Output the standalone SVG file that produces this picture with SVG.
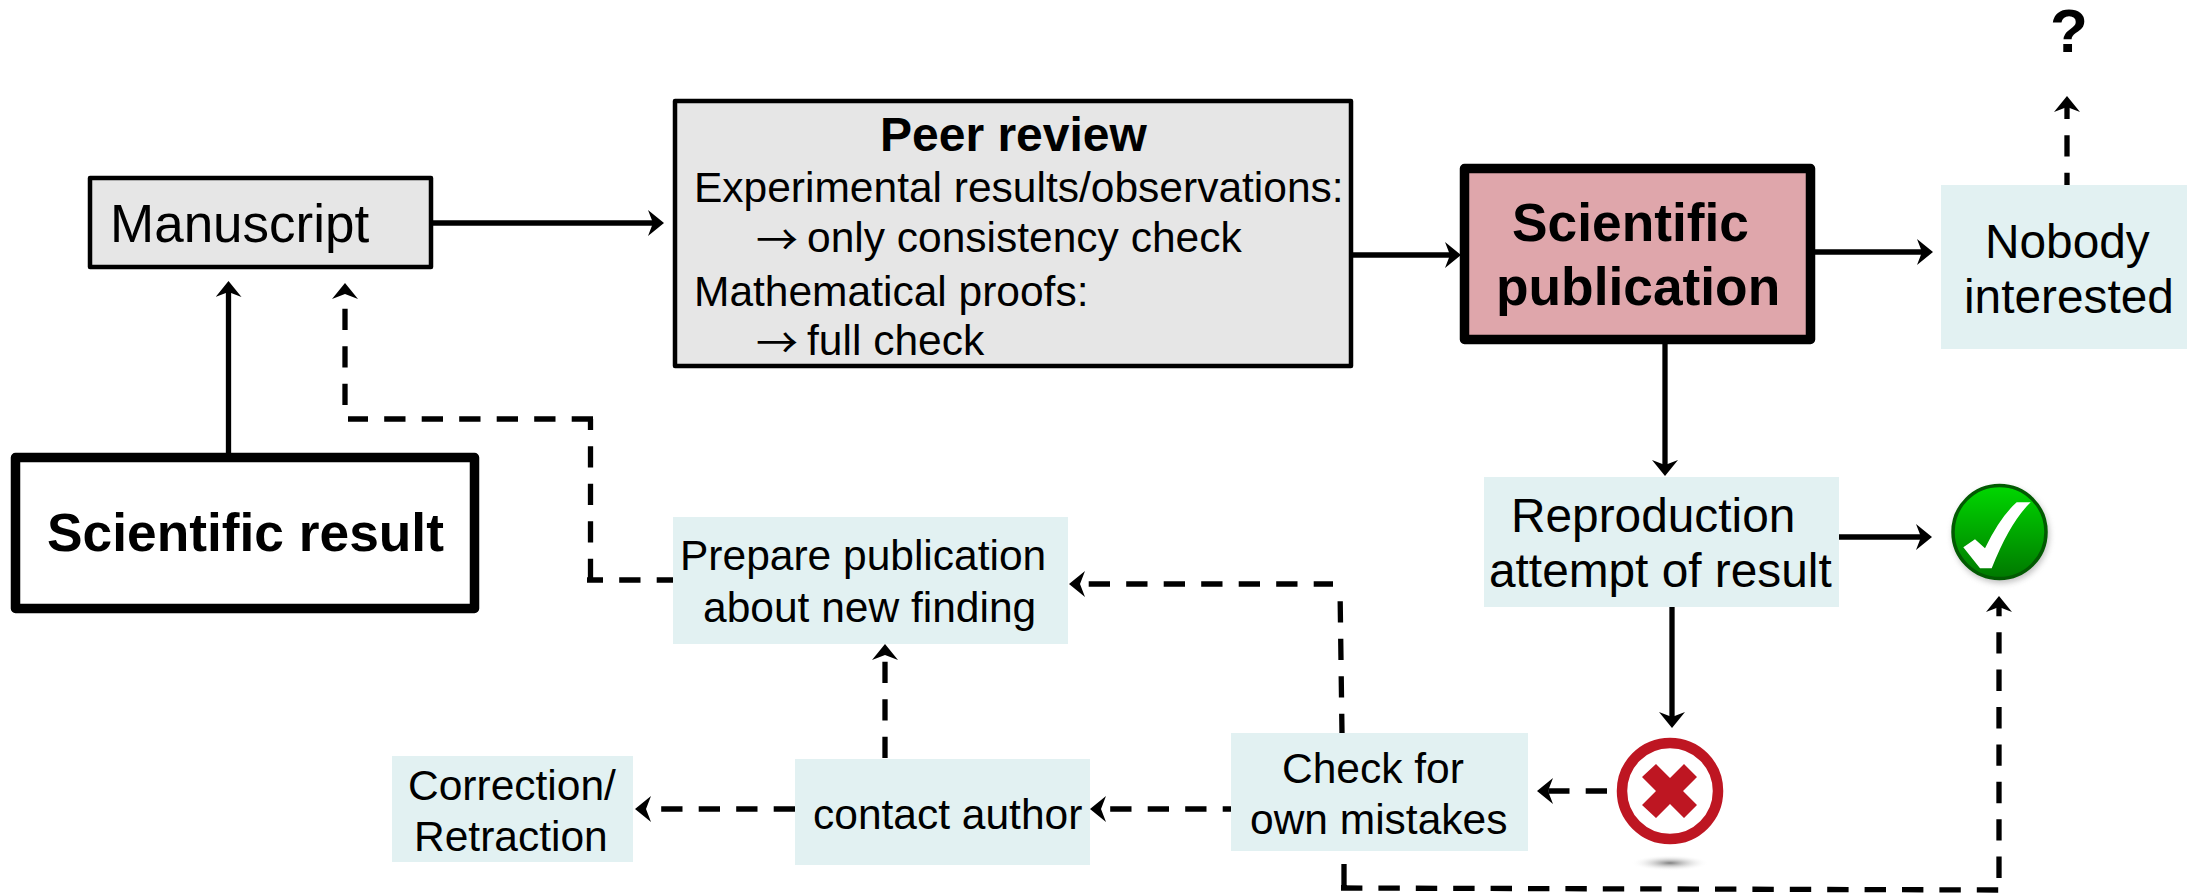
<svg xmlns="http://www.w3.org/2000/svg" width="2187" height="893" viewBox="0 0 2187 893">
<style>
text{font-family:"Liberation Sans",Arial,sans-serif;fill:#000}
.b{font-weight:700}
.grey{fill:#e6e6e6;stroke:#000;stroke-width:4.5;stroke-linejoin:round}
.thick{stroke:#000;stroke-width:9.5;stroke-linejoin:round}
.teal{fill:#e2f1f2}
.s42{font-size:42.500px}.s47{font-size:47.800px}.s52{font-size:53.300px}
.arr{font-family:"Noto Sans CJK SC","Noto Sans",sans-serif;font-size:42px}
.c{fill:none;stroke:#000;stroke-width:5.300;marker-end:url(#head)}
.d{stroke-dasharray:21.300 16.200}
</style>
<defs>
<marker id="head" markerUnits="userSpaceOnUse" markerWidth="18" markerHeight="28" refX="6" refY="13" orient="auto">
<path d="M16,13 L0,0 L5,13 L0,26Z" fill="#000"/>
</marker>
<linearGradient id="green" x1="0" y1="0" x2="0" y2="1"><stop offset="0" stop-color="#00d800"/><stop offset="1" stop-color="#007800"/></linearGradient>
<radialGradient id="floor"><stop offset="0" stop-color="#808080"/><stop offset="1" stop-color="#fff" stop-opacity="0"/></radialGradient>
<filter id="blur" x="-20%" y="-20%" width="140%" height="140%"><feGaussianBlur stdDeviation="3"/></filter>
</defs>

<g id="connectors">
<path class="c" d="M433,223 H654"/>
<path class="c" d="M228.500,453 V291"/>
<path class="c" d="M1353,255 H1451"/>
<path class="c" d="M1815,252 H1923"/>
<path class="c" d="M1665,344 V466"/>
<path class="c" d="M1672,607 V718"/>
<path class="c" d="M1839,537 H1922"/>
<path class="c d" d="M2067,185 V106" stroke-dashoffset="9"/>
<path class="c d" d="M1607,791 H1547"/>
<path class="c d" d="M1231,809 H1100" stroke-dashoffset="13"/>
<path class="c d" d="M795,809 H645"/>
<path class="c d" d="M885,758 V654"/>
<path class="c d" d="M678,580 H587 M590.500,580 V419 M593,419 H348 M345,405 V293"/>
<path class="c d" d="M1342,733 L1340,587 M1333,584 H1079" stroke-dashoffset="2"/>
<path class="c" style="stroke-dasharray:21.400 16" d="M1344,864 V888 M1341,888 L1999,890 M1999,878 V606"/>
</g>

<g id="manuscript"><rect class="grey" x="90" y="178" width="341" height="89"/><text x="110" y="242" font-size="53">Manuscript</text></g>
<g id="scientific-result"><rect class="thick" fill="#fff" x="15.500" y="457.500" width="459" height="151"/><text class="b s52" x="47" y="551">Scientific result</text></g>
<g id="peer-review"><rect class="grey" x="675" y="101" width="676" height="265"/>
<text class="b" x="880" y="151" font-size="48">Peer review</text>
<text class="s42" x="694" y="202">Experimental results/observations:</text>
<text class="arr" x="756" y="255">→</text><text class="s42" x="807" y="252">only consistency check</text>
<text class="s42" x="694" y="306">Mathematical proofs:</text>
<text class="arr" x="756" y="358">→</text><text class="s42" x="807" y="355">full check</text></g>
<g id="scientific-publication"><rect class="thick" fill="#dfa6ab" x="1464.500" y="168.500" width="346" height="171"/>
<text class="b s52" x="1512" y="241">Scientific</text><text class="b s52" x="1496" y="305">publication</text></g>
<g id="nobody-interested"><rect class="teal" x="1941" y="185" width="246" height="164"/>
<text class="s47" x="1985" y="258">Nobody</text><text class="s47" x="1964" y="313">interested</text></g>
<g id="question"><text class="b" x="2050" y="52" font-size="62">?</text></g>
<g id="reproduction"><rect class="teal" x="1484" y="477" width="355" height="130"/>
<text class="s47" x="1511" y="532">Reproduction</text><text class="s47" x="1489" y="587">attempt of result</text></g>
<g id="success">
<circle cx="2001" cy="535" r="48" fill="#888" opacity=".55" filter="url(#blur)"/>
<circle cx="1999.500" cy="532" r="46.500" fill="url(#green)" stroke="#025a02" stroke-width="3.500"/>
<path fill="#fff" d="M1963.300,547.300 L1975,539.300 L1985,548.300 Q2000,517 2016.700,502.300 L2030.700,502.300 Q2010,522 1991.700,568.300 L1980,568.300Z"/>
</g>
<g id="failure">
<ellipse cx="1670" cy="863" rx="39" ry="8" fill="url(#floor)"/>
<circle cx="1670" cy="791" r="48" fill="#fff" stroke="#be1622" stroke-width="10.500"/>
<path fill="#be1622" d="M1656,764 L1670,778 L1684,764 L1697,777 L1683,791 L1697,805 L1684,818 L1670,804 L1656,818 L1642,805 L1656,791 L1642,777Z"/>
</g>
<g id="check-mistakes"><rect class="teal" x="1231" y="733" width="297" height="118"/>
<text class="s42" x="1282" y="783">Check for</text><text class="s42" x="1250" y="834">own mistakes</text></g>
<g id="contact-author"><rect class="teal" x="795" y="759" width="295" height="106"/><text class="s42" x="813" y="829">contact author</text></g>
<g id="correction"><rect class="teal" x="392" y="756" width="241" height="106"/>
<text class="s42" x="408" y="800">Correction/</text><text class="s42" x="414" y="851">Retraction</text></g>
<g id="prepare"><rect class="teal" x="673" y="517" width="395" height="127"/>
<text class="s42" x="680" y="570">Prepare publication</text><text class="s42" x="703" y="622">about new finding</text></g>
</svg>
